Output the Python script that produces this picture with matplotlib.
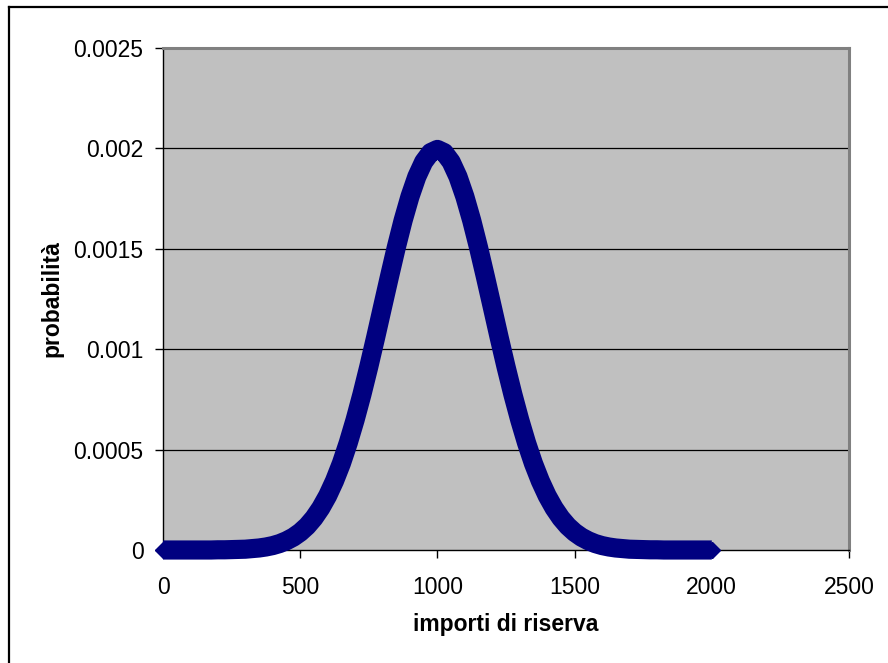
import matplotlib
matplotlib.use("Agg")
import matplotlib.pyplot as plt
from matplotlib.lines import Line2D

# Reserve amounts and their probability density
importi = [0, 25, 50, 75, 100, 125, 150, 175, 200, 225, 250, 275, 300, 325, 350, 375,
           400, 425, 450, 475, 500, 525, 550, 575, 600, 625, 650, 675, 700, 725, 750,
           775, 800, 825, 850, 875, 900, 925, 950, 975, 1000, 1025, 1050, 1075, 1100,
           1125, 1150, 1175, 1200, 1225, 1250, 1275, 1300, 1325, 1350, 1375, 1400,
           1425, 1450, 1475, 1500, 1525, 1550, 1575, 1600, 1625, 1650, 1675, 1700,
           1725, 1750, 1775, 1800, 1825, 1850, 1875, 1900, 1925, 1950, 1975, 2000]
probabilita = [0.0, 0.0, 0.0, 0.0, 0.0, 0.0, 0.0, 0.0, 0.000001, 0.000001, 0.000002,
               0.000003, 0.000004, 0.000007, 0.00001, 0.000015, 0.000022, 0.000032,
               0.000046, 0.000064, 0.000088, 0.000119, 0.000159, 0.000209, 0.00027,
               0.000344, 0.000431, 0.000533, 0.000648, 0.000775, 0.000913, 0.001059,
               0.00121, 0.00136, 0.001506, 0.001641, 0.00176, 0.001859, 0.001933,
               0.001979, 0.001995,
               0.001979, 0.001933, 0.001859, 0.00176, 0.001641, 0.001506, 0.00136,
               0.00121, 0.001059, 0.000913, 0.000775, 0.000648, 0.000533, 0.000431,
               0.000344, 0.00027, 0.000209, 0.000159, 0.000119, 0.000088, 0.000064,
               0.000046, 0.000032, 0.000022, 0.000015, 0.00001, 0.000007, 0.000004,
               0.000003, 0.000002, 0.000001, 0.000001, 0.0, 0.0, 0.0, 0.0, 0.0, 0.0,
               0.0, 0.0]

x_ticks = [0, 500, 1000, 1500, 2000, 2500]
x_tick_labels = ["0", "500", "1000", "1500", "2000", "2500"]
y_ticks = [0, 0.0005, 0.001, 0.0015, 0.002, 0.0025]
y_tick_labels = ["0", "0.0005", "0.001", "0.0015", "0.002", "0.0025"]

plt.rcParams["font.family"] = ["Liberation Sans", "DejaVu Sans"]

W, H = 888, 663
fig = plt.figure(figsize=(W / 100, H / 100), dpi=100)
fig.patch.set_facecolor("white")

ax = fig.add_axes([163 / W, 1 - 550 / H, (849 - 163) / W, (550 - 48) / H])
ax.set_facecolor("#C0C0C0")

ax.set_xlim(0, 2500)
ax.set_ylim(0, 0.0025)

for yv in y_ticks[1:-1]:
    ax.axhline(yv, color="black", lw=0.9, zorder=1)

ax.plot(importi, probabilita, color="#000080", lw=13.8, solid_joinstyle="round",
        solid_capstyle="butt", marker="D", markevery=[0, len(importi) - 1],
        markersize=8.6, markeredgewidth=1, markeredgecolor="#000080",
        markerfacecolor="#000080", clip_on=False, zorder=3)

ax.set_xticks(x_ticks)
ax.set_xticklabels(x_tick_labels)
ax.set_yticks(y_ticks)
ax.set_yticklabels(y_tick_labels)
ax.tick_params(axis="both", direction="out", length=6, width=1, color="black",
               labelsize=16.5, pad=8)
ax.tick_params(axis="x", pad=13)

for side in ("left", "bottom"):
    ax.spines[side].set_color("black")
    ax.spines[side].set_linewidth(1)
for side in ("top", "right"):
    ax.spines[side].set_color("#808080")
    ax.spines[side].set_linewidth(2.2)

ax.set_xlabel("importi di riserva", fontsize=16.5, fontweight="bold", labelpad=10)
ax.set_ylabel("probabilità", fontsize=16.5, fontweight="bold", labelpad=7)

# Chart-area frame (left and top edges)
fig.add_artist(Line2D([8.5 / W, 8.5 / W], [0, 1 - 6.5 / H], color="black", lw=1.6,
                      transform=fig.transFigure))
fig.add_artist(Line2D([8.5 / W, 1], [1 - 6.5 / H, 1 - 6.5 / H], color="black", lw=1.6,
                      transform=fig.transFigure))

fig.savefig("out.png", dpi=100)
